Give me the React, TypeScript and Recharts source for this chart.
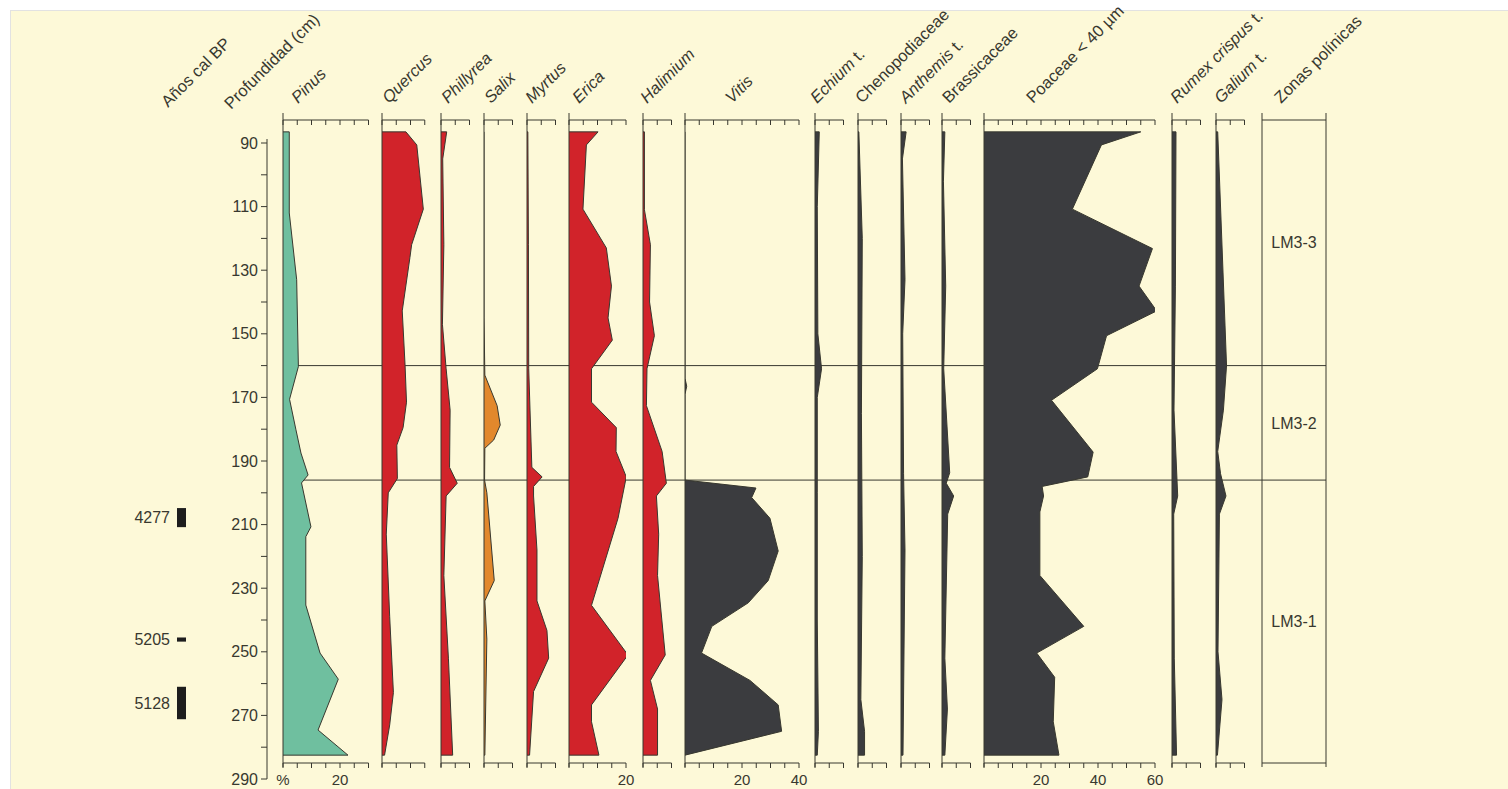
import { ComposedChart, Area, XAxis, YAxis, ReferenceLine, ReferenceArea } from 'recharts'

// pollen percentages: [depth cm, %]
const pinus = [[86.5, 2.2], [112, 2.2], [133, 4.8], [160.3, 5.4], [170.6, 2.3], [180, 4.5], [187.5, 6.3], [194.4, 8.8], [196.9, 6.5], [210.7, 9.8], [213.8, 8], [235.3, 8], [250.4, 13], [258.6, 19.4], [274.6, 12.3], [282.5, 22.8]]
const quercus = [[86.5, 8.4], [90.6, 12.2], [110.8, 14.5], [122, 10.4], [126, 9.8], [142.8, 7.1], [160, 8.1], [171.5, 8.6], [179.5, 7.4], [185, 5.2], [195.5, 5.4], [200, 2.2], [213, 1.5], [239, 2.7], [262.8, 4], [273, 2.7], [282.5, 0.9]]
const phillyrea = [[86.5, 2], [95, 0.6], [122, 1], [147, 0.5], [161, 1.8], [174, 3.2], [192, 3], [197, 5.7], [201, 1.8], [226, 1], [252, 2.6], [282.5, 4.1]]
const salix = [[86.5, 0], [145, 0], [163, 0.3], [172.6, 4.6], [178.7, 5.7], [183.4, 3.4], [186, 0.3], [196, 0.2], [200, 1], [227.6, 3.6], [234, 0.3], [246, 1], [282.5, 0.3]]
const myrtus = [[86.5, 0.3], [122, 0.5], [161, 0.6], [192, 1.7], [195, 5.3], [198, 2.3], [201, 2.3], [218, 3.5], [234, 3.5], [243.3, 7], [252, 7.6], [262.5, 2.3], [282.5, 0.9]]
const erica = [[86.5, 10.2], [90.6, 6.1], [110.8, 4.9], [123, 13.1], [135, 14.9], [145, 13.7], [152, 15.2], [161, 7.9], [171.5, 7.9], [179.5, 16.6], [187, 16.5], [195, 20.1], [208, 17.2], [235.4, 7.9], [251, 20.7], [266.7, 7.9], [272, 7.9], [282.5, 10.5]]
const halimium = [[86.5, 0.5], [111, 0.5], [122, 2.6], [140, 2.3], [150.6, 4], [161, 1.4], [172.6, 1.2], [187, 6.7], [197, 8.2], [201, 4.7], [213, 5.5], [226, 5.1], [251, 7.8], [259, 2.6], [268, 5.1], [282.5, 5.1]]
const vitis = [[86.5, 0], [164, 0], [166.5, 0.6], [169, 0], [196, 0], [198.5, 24.9], [201.5, 23.4], [208, 29.8], [218.3, 32.7], [227.6, 29.2], [234.6, 22.2], [242, 9.4], [250.4, 5.8], [259, 22.8], [266.7, 32.7], [275, 33.9], [282.5, 0]]
const echium = [[86.5, 1.5], [110, 0.8], [150, 1], [161, 2.3], [170, 0.8], [200, 0.8], [240, 0.8], [275, 1.2], [282.5, 0.8]]
const chenopodiaceae = [[86.5, 0.3], [120, 1.5], [175, 1.2], [220, 1.5], [265, 1], [275, 2.3], [282.5, 2.3]]
const anthemis = [[86.5, 1.8], [95, 0.5], [133, 1.4], [150, 0.6], [194, 0.9], [218, 1.4], [282.5, 0.7]]
const brassicaceae = [[86.5, 1], [102, 0.5], [135, 1.3], [161, 0.6], [193.7, 2.7], [197, 1.5], [201, 4.1], [206.7, 2], [252, 1], [268, 1.9], [282.5, 1]]
const poaceae = [[86.5, 55], [90.6, 41.2], [110.8, 31], [123.2, 59.1], [135, 54.4], [142.8, 60.6], [150.6, 43], [161, 39.8], [170.9, 23.7], [187.2, 38.3], [195, 36.4], [198, 20.4], [201, 20.9], [206, 19.6], [226, 19.6], [242, 35], [250.4, 18.5], [258, 24.8], [272, 24.3], [282.5, 26.3]]
const rumex = [[86.5, 1.4], [135, 1.2], [174, 0.7], [201, 2], [206.7, 0.6], [252, 0.8], [282.5, 1.6]]
const galium = [[86.5, 0.6], [160, 3.7], [174, 2.6], [187, 0.6], [194, 1.6], [201, 3.5], [206.7, 1.2], [250, 0.7], [265, 2.1], [282.5, 0.5]]

const depthTicks = [90, 100, 110, 120, 130, 140, 150, 160, 170, 180, 190, 200, 210, 220, 230, 240, 250, 260, 270, 280, 290]

const dateAges = ['4277', '5205', '5128']
const dateFrom = [204.8, 245.5, 261]
const dateTo = [210.8, 246.8, 271.2]

const zoneNames = ['LM3-3', 'LM3-2', 'LM3-1']
const zoneBreaks = [160, 196]

const INK = '#38382f'
const CREAM = '#fdf9d8'
const GREEN = '#6fbf9f'
const RED = '#d1232a'
const ORANGE = '#e2882c'
const DARK = '#3b3c3f'
const FONT = "'Liberation Sans', Arial, sans-serif"

const H = 789
const TOP = 120
const BOTTOM = 763
const Y90 = 143
const PX_CM = 3.18
const PX_PCT = 2.85
const depthAt = (y: number) => 90 + (y - Y90) / PX_CM
const D_TOP = depthAt(TOP)
const D_BOT = depthAt(BOTTOM)

type Part = [string, boolean]

interface PanelDef {
  label: Part[]
  data: number[][]
  max: number
  left: number
  fill: string
  hx: number
  marks?: Record<number, string>
}

const panels: PanelDef[] = [
  { label: [['Pinus', true]], data: pinus, max: 30, left: 283, fill: GREEN, hx: 298, marks: { 0: '%', 20: '20' } },
  { label: [['Quercus', true]], data: quercus, max: 15, left: 382, fill: RED, hx: 389 },
  { label: [['Phillyrea', true]], data: phillyrea, max: 10, left: 441, fill: RED, hx: 448 },
  { label: [['Salix', true]], data: salix, max: 10, left: 484, fill: ORANGE, hx: 491 },
  { label: [['Myrtus', true]], data: myrtus, max: 10, left: 527, fill: RED, hx: 532 },
  { label: [['Erica', true]], data: erica, max: 20, left: 569, fill: RED, hx: 579, marks: { 20: '20' } },
  { label: [['Halimium', true]], data: halimium, max: 10, left: 643, fill: RED, hx: 647 },
  { label: [['Vitis', true]], data: vitis, max: 40, left: 685, fill: DARK, hx: 732, marks: { 20: '20', 40: '40' } },
  { label: [['Echium', true], [' t.', false]], data: echium, max: 10, left: 815, fill: DARK, hx: 817 },
  { label: [['Chenopodiaceae', false]], data: chenopodiaceae, max: 10, left: 858, fill: DARK, hx: 862 },
  { label: [['Anthemis', true], [' t.', false]], data: anthemis, max: 10, left: 901, fill: DARK, hx: 906 },
  { label: [['Brassicaceae', false]], data: brassicaceae, max: 10, left: 942, fill: DARK, hx: 949 },
  { label: [['Poaceae < 40 µm', false]], data: poaceae, max: 60, left: 984, fill: DARK, hx: 1033, marks: { 20: '20', 40: '40', 60: '60' } },
  { label: [['Rumex crispus', true], [' t.', false]], data: rumex, max: 10, left: 1172, fill: DARK, hx: 1177 },
  { label: [['Galium', true], [' t.', false]], data: galium, max: 10, left: 1216, fill: DARK, hx: 1221 },
]

const ZONE_LEFT = 1262
const ZONE_RIGHT = 1326

const NoLabel = () => <g />

function Panel({ p }: { p: PanelDef }) {
  const first = p.data[0][0]
  const last = p.data[p.data.length - 1][0]
  const rows = [
    { depth: first, v: 0 },
    ...p.data.map(([depth, v]) => ({ depth, v })),
    { depth: last, v: 0 },
  ]
  const ticks: number[] = []
  for (let t = 0; t <= p.max; t += 5) ticks.push(t)
  const w = p.max * PX_PCT

  return (
    <div style={{ position: 'absolute', left: p.left - 10, top: 0 }}>
      <ComposedChart layout="vertical" width={w + 20} height={H} data={rows} margin={{ top: TOP, right: 10, bottom: 0, left: 10 }}>
        <XAxis xAxisId="t" orientation="top" type="number" domain={[0, p.max]} ticks={ticks} interval={0}
          mirror tick={NoLabel} tickSize={5} stroke={INK} allowDataOverflow />
        <XAxis xAxisId="b" orientation="bottom" type="number" domain={[0, p.max]} ticks={ticks} interval={0}
          height={H - BOTTOM} tickSize={5} tickMargin={6} stroke={INK} allowDataOverflow
          tick={{ fill: INK, fontSize: 15 }} tickFormatter={(v) => p.marks?.[v] ?? ''} />
        <YAxis type="number" dataKey="depth" domain={[D_TOP, D_BOT]} hide allowDataOverflow />
        <Area xAxisId="t" dataKey="v" type="linear" fill={p.fill} fillOpacity={1} stroke={INK} strokeWidth={1}
          dot={false} activeDot={false} isAnimationActive={false} />
        <ReferenceLine xAxisId="t" segment={[{ x: 0, y: depthAt(113) }, { x: 0, y: depthAt(767) }]}
          stroke={INK} ifOverflow="visible" />
      </ComposedChart>
    </div>
  )
}

function ZoneLines() {
  const rows = zoneBreaks.map((depth) => ({ depth, x: 0 }))
  return (
    <div style={{ position: 'absolute', left: 273, top: 0 }}>
      <ComposedChart layout="vertical" width={ZONE_RIGHT - 283 + 20} height={H} data={rows}
        margin={{ top: TOP, right: 10, bottom: H - BOTTOM, left: 10 }}>
        <XAxis type="number" dataKey="x" domain={[0, 1]} hide />
        <YAxis type="number" dataKey="depth" domain={[D_TOP, D_BOT]} hide />
        {zoneBreaks.map((d) => (
          <ReferenceLine key={d} y={d} stroke={INK} />
        ))}
      </ComposedChart>
    </div>
  )
}

function DepthAxis() {
  const rows = depthTicks.map((depth) => ({ depth, x: 0 }))
  return (
    <div style={{ position: 'absolute', left: 0, top: 0 }}>
      <ComposedChart layout="vertical" width={280} height={H} data={rows}
        margin={{ top: 139, right: 5, bottom: H - 779, left: 0 }}>
        <XAxis type="number" dataKey="x" domain={[0, 1]} hide />
        <YAxis type="number" dataKey="depth" domain={[depthAt(139), 290]} ticks={depthTicks} interval={0} width={267}
          tickSize={6} tickMargin={3} stroke={INK} allowDataOverflow
          tick={{ fill: INK, fontSize: 16 }} tickFormatter={(v) => (v % 20 === 10 ? String(v) : '')} />
      </ComposedChart>
    </div>
  )
}

function Dates() {
  const rows = dateAges.map((age, i) => ({ age, depth: dateFrom[i], x: 0 }))
  return (
    <div style={{ position: 'absolute', left: 0, top: 0 }}>
      <ComposedChart layout="vertical" width={200} height={H} data={rows}
        margin={{ top: TOP, right: 14, bottom: H - BOTTOM, left: 177 }}>
        <XAxis type="number" dataKey="x" domain={[0, 1]} hide />
        <YAxis type="number" dataKey="depth" domain={[D_TOP, D_BOT]} hide />
        {dateAges.map((age, i) => (
          <ReferenceArea key={age} x1={0} x2={1} y1={dateFrom[i]} y2={dateTo[i]} fill="#1d1d1d" fillOpacity={1}
            label={{ value: age, position: 'left', offset: 7, fill: INK, fontSize: 16 }} />
        ))}
      </ComposedChart>
    </div>
  )
}

function Zones() {
  const bounds = [D_TOP, ...zoneBreaks, D_BOT]
  const rows = zoneNames.map((name, i) => ({ name, depth: bounds[i], x: 0 }))
  return (
    <div style={{ position: 'absolute', left: ZONE_LEFT - 10, top: 0 }}>
      <ComposedChart layout="vertical" width={ZONE_RIGHT - ZONE_LEFT + 20} height={H} data={rows}
        margin={{ top: TOP, right: 10, bottom: 0, left: 10 }}>
        <XAxis xAxisId="t" orientation="top" type="number" dataKey="x" domain={[0, 1]} mirror tick={false} tickLine={false} stroke={INK} />
        <XAxis xAxisId="b" orientation="bottom" type="number" dataKey="x" domain={[0, 1]} tick={false} tickLine={false} height={H - BOTTOM} stroke={INK} />
        <YAxis type="number" dataKey="depth" domain={[D_TOP, D_BOT]} hide />
        {[0, 1].map((x) => (
          <ReferenceLine key={x} xAxisId="t" segment={[{ x, y: depthAt(113) }, { x, y: depthAt(767) }]} stroke={INK} ifOverflow="visible" />
        ))}
        {zoneNames.map((z, i) => (
          <ReferenceArea key={z} xAxisId="t" x1={0} x2={1} y1={bounds[i]} y2={bounds[i + 1]} fill="none" stroke="none"
            label={{ value: z, position: 'center', fill: INK, fontSize: 16 }} />
        ))}
      </ComposedChart>
    </div>
  )
}

function Headers() {
  const items: { x: number; y: number; parts: Part[] }[] = [
    { x: 168, y: 108, parts: [['Años cal BP', false]] },
    { x: 231, y: 110, parts: [['Profundidad (cm)', false]] },
    ...panels.map((p) => ({ x: p.hx, y: 104, parts: p.label })),
    { x: 1281, y: 104, parts: [['Zonas polínicas', false]] },
  ]
  return (
    <svg width={1508} height={120} style={{ position: 'absolute', left: 0, top: 0, overflow: 'visible' }}>
      {items.map((it, i) => (
        <text key={i} transform={`translate(${it.x},${it.y}) rotate(-45)`} fontSize={16.5} fill={INK}>
          {it.parts.map(([s, ital], j) => (
            <tspan key={j} fontStyle={ital ? 'italic' : 'normal'}>{s}</tspan>
          ))}
        </text>
      ))}
    </svg>
  )
}

export default function App() {
  return (
    <div style={{ position: 'absolute', left: 0, top: 0, width: 1508, height: H, background: '#fff', overflow: 'hidden', fontFamily: FONT }}>
      <div style={{ position: 'absolute', left: 10, top: 10, right: 0, bottom: 0, background: CREAM, borderTop: '1px solid #e2e2e2', borderLeft: '1px solid #e2e2e2' }} />
      <ZoneLines />
      {panels.map((p) => (
        <Panel key={p.left} p={p} />
      ))}
      <DepthAxis />
      <Dates />
      <Zones />
      <Headers />
    </div>
  )
}
